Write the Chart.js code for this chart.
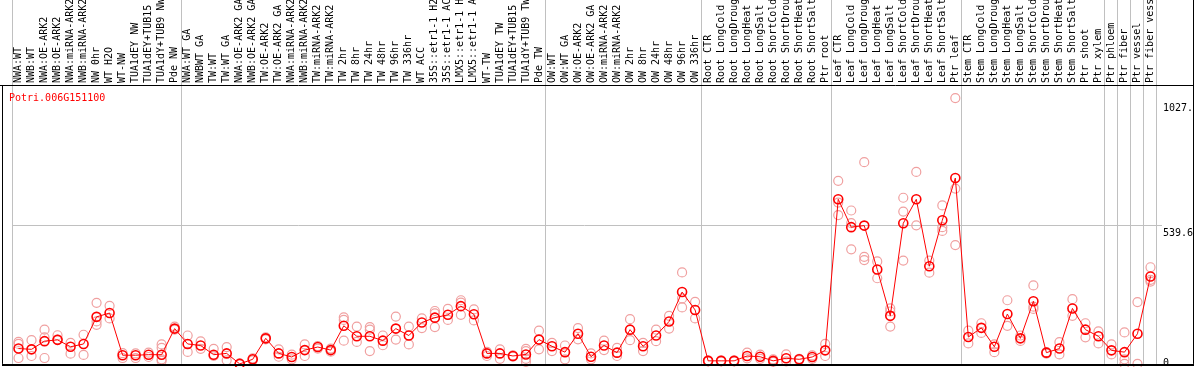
<!DOCTYPE html>
<html>
<head>
<meta charset="utf-8">
<script src="https://cdn.jsdelivr.net/npm/chart.js@4/dist/chart.umd.min.js"></script>
<style>
  html, body { margin: 0; padding: 0; background: #fff; }
</style>
</head>
<body>
<canvas id="chart" width="1194" height="370"></canvas>
<script>
// Potri.006G151100 - expression profile

const chartTitle = "Potri.006G151100";

const samples = [
  "NWA:WT", "NWB:WT", "NWA:OE-ARK2", "NWB:OE-ARK2", "NWA:miRNA-ARK2", "NWB:miRNA-ARK2", "NW 0hr", "WT H2O", "WT-NW",
  "TUA1dEY NW", "TUA1dEY+TUB15", "TUA1dY+TUB9 NW", "Pde NW",
  "NWA:WT GA", "NWBWT GA", "TW:WT", "TW:WT GA", "NWA:OE-ARK2 GA", "NWB:OE-ARK2 GA", "TW:OE-ARK2", "TW:OE-ARK2 GA",
  "NWA:miRNA-ARK2", "NWB:miRNA-ARK2", "TW:miRNA-ARK2", "TW:miRNA-ARK2", "TW 2hr", "TW 8hr", "TW 24hr", "TW 48hr",
  "TW 96hr", "TW 336hr", "WT ACC", "35S::etr1-1 H2", "35S::etr1-1 AC", "LMX5::etr1-1 H", "LMX5::etr1-1 A", "WT-TW",
  "TUA1dEY TW", "TUA1dEY+TUB15", "TUA1dY+TUB9 TW", "Pde TW",
  "OW:WT", "OW:WT GA", "OW:OE-ARK2", "OW:OE-ARK2 GA", "OW:miRNA-ARK2", "OW:miRNA-ARK2", "OW 2hr", "OW 8hr", "OW 24hr",
  "OW 48hr", "OW 96hr", "OW 336hr",
  "Root CTR", "Root LongCold", "Root LongDroug", "Root LongHeat", "Root LongSalt", "Root ShortCold", "Root ShortDrou",
  "Root ShortHeat", "Root ShortSalt", "Ptr root",
  "Leaf CTR", "Leaf LongCold", "Leaf LongDroug", "Leaf LongHeat", "Leaf LongSalt", "Leaf ShortCold", "Leaf ShortDrou",
  "Leaf ShortHeat", "Leaf ShortSalt", "Ptr leaf",
  "Stem CTR", "Stem LongCold", "Stem LongDroug", "Stem LongHeat", "Stem LongSalt", "Stem ShortCold", "Stem ShortDrou",
  "Stem ShortHeat", "Stem ShortSalt", "Ptr shoot", "Ptr xylem",
  "Ptr phloem", "Ptr fiber", "Ptr vessel", "Ptr fiber vess"
];

// sample count per block between the grey separators
const groupSizes = [13, 28, 12, 10, 10, 11, 1, 1, 1, 1];

const meanExpr = [
  60, 57, 89, 94, 67, 78, 184, 199, 34, 34,
  36, 36, 138, 78, 72, 36, 41, 0, 18, 100,
  41, 27, 54, 66, 54, 149, 108, 108, 91, 138,
  111, 162, 181, 192, 226, 194, 41, 41, 31, 37,
  95, 69, 46, 118, 28, 72, 44, 134, 69, 111,
  166, 281, 211, 12, 12, 12, 31, 28, 12, 22,
  18, 27, 53, 644, 535, 541, 369, 188, 550, 644,
  382, 562, 727, 105, 141, 67, 195, 100, 245, 44,
  60, 217, 134, 108, 53, 46, 118, 342
];

const rep1 = [
  86, 93, 134, 112, 82, 114, 239, 227, 42, 41,
  44, 76, 146, 111, 88, 59, 66, 2, 22, 104,
  57, 36, 76, 70, 60, 182, 146, 144, 111, 185,
  146, 178, 207, 215, 249, 213, 47, 57, 33, 59,
  130, 82, 72, 140, 41, 91, 63, 175, 82, 134,
  188, 358, 243, 14, 14, 14, 44, 36, 18, 37,
  20, 33, 78, 716, 600, 789, 401, 217, 650, 751,
  404, 620, 1040, 130, 159, 76, 249, 111, 307, 46,
  85, 253, 159, 127, 76, 123, 242, 378
];

const rep2 = [
  78, 31, 104, 95, 40, 35, 166, 178, 23, 23,
  27, 63, 134, 47, 59, 31, 14, 0, 14, 96,
  28, 18, 31, 60, 48, 172, 86, 134, 73, 95,
  76, 140, 198, 172, 240, 170, 31, 20, 28, 50,
  57, 50, 18, 96, 18, 54, 31, 93, 50, 89,
  138, 256, 178, 10, 10, 10, 22, 20, 8, 10,
  15, 20, 31, 631, 551, 419, 335, 205, 596, 542,
  357, 535, 686, 80, 121, 46, 149, 90, 224, 40,
  37, 188, 104, 80, 37, 18, 0, 329
];

const rep3 = [
  23, null, 23, null, null, null, 153, null, null, null,
  null, 18, null, null, null, null, null, null, null, null,
  null, null, null, null, null, 91, null, 50, null, null,
  null, null, 144, null, 192, null, null, null, null, 20,
  null, null, null, null, null, null, null, null, null, null,
  null, 221, null, null, null, null, null, null, null, null,
  null, null, null, 582, 448, 406, null, 146, 404, null,
  null, 520, 465, null, null, null, null, null, 215, null,
  null, null, null, null, null, 0, null, 322
];

const rep4 = [
  null, null, null, null, null, null, null, null, null, null,
  null, 12, null, null, null, null, null, null, null, null,
  null, null, null, null, null, null, null, null, null, null,
  null, null, null, null, null, null, null, null, null, 8,
  null, null, null, null, null, null, null, null, null, null,
  null, null, null, null, null, null, null, null, null, null,
  null, null, null, null, null, null, null, null, null, null,
  null, null, null, null, null, null, null, null, null, null,
  null, null, null, null, null, null, null, null
];

const yTickValues = [0, 539.6, 1027.4];
const yTickLabels = ["0", "539.6", "1027."];
const yGridValues = [539.6];
const yMax = 1091;

const MONO = "DejaVu Sans Mono";
const GRID_GREY = "#c0c0c0";
const CLEAR = "rgba(0,0,0,0)";

// index of the first sample of each block
const groupStarts = [];
groupSizes.reduce((acc, n) => { groupStarts.push(acc); return acc + n; }, 0);

// frame + red gene id in the corner
const framePlugin = {
  id: "frame",
  afterDraw(chart) {
    const { ctx, chartArea, width } = chart;
    ctx.save();
    ctx.strokeStyle = "#000";
    ctx.lineWidth = 1;
    ctx.beginPath();
    ctx.moveTo(0, chartArea.top + 0.5);
    ctx.lineTo(width, chartArea.top + 0.5);
    ctx.moveTo(2.5, chartArea.top);
    ctx.lineTo(2.5, chartArea.bottom);
    ctx.moveTo(width - 0.5, 0);
    ctx.lineTo(width - 0.5, chartArea.bottom);
    ctx.stroke();
    ctx.lineWidth = 2;
    ctx.beginPath();
    ctx.moveTo(2, chartArea.bottom + 1);
    ctx.lineTo(width, chartArea.bottom + 1);
    ctx.stroke();

    ctx.fillStyle = "#ff0000";
    ctx.font = "10px '" + MONO + "'";
    ctx.textBaseline = "middle";
    ctx.textAlign = "left";
    ctx.fillText(chartTitle, chartArea.left - 3, chartArea.top + 13);
    ctx.restore();
  }
};

function repSet(data) {
  return {
    data,
    showLine: false,
    pointRadius: 4.5,
    pointBorderWidth: 1.2,
    pointBorderColor: "#f0a0a0",
    pointBackgroundColor: CLEAR,
    order: 1,
    clip: { left: 0, top: 0, right: 0, bottom: 3 }
  };
}

new Chart(document.getElementById("chart"), {
  type: "line",
  data: {
    labels: samples,
    datasets: [
      {
        label: "mean",
        data: meanExpr,
        borderColor: "#ff0000",
        borderWidth: 1,
        tension: 0,
        pointRadius: 4.5,
        pointBorderWidth: 1.6,
        pointBorderColor: "#ff0000",
        pointBackgroundColor: CLEAR,
        order: 0,
        clip: { left: 0, top: 0, right: 0, bottom: 3 }
      },
      repSet(rep1),
      repSet(rep2),
      repSet(rep3),
      repSet(rep4)
    ]
  },
  options: {
    responsive: false,
    animation: false,
    devicePixelRatio: 1,
    layout: { padding: { left: 12, right: 0, top: 0, bottom: 2 } },
    plugins: { legend: { display: false }, tooltip: { enabled: false }, title: { display: false } },
    scales: {
      x: {
        type: "category",
        position: "top",
        offset: true,
        border: { display: false },
        grid: {
          offset: true,
          drawTicks: true,
          tickLength: 85,
          lineWidth: 1,
          color: (c) => (c.index === undefined || groupStarts.includes(c.index)) ? GRID_GREY : CLEAR
        },
        ticks: {
          autoSkip: false,
          minRotation: 90,
          maxRotation: 90,
          padding: -83,
          labelOffset: 12,
          color: "#000",
          font: { family: MONO, size: 10 }
        },
        afterFit: (s) => { s.height = 85; s.paddingLeft = 0; s.paddingRight = 0; }
      },
      y: {
        position: "right",
        min: 0,
        max: yMax,
        border: { display: false },
        afterBuildTicks: (s) => { s.ticks = yTickValues.map(v => ({ value: v })); },
        afterFit: (s) => { s.width = 37; s.paddingTop = 0; s.paddingBottom = 0; },
        grid: {
          drawTicks: true,
          tickLength: 5,
          color: (c) => (c.tick && yGridValues.includes(c.tick.value)) ? GRID_GREY : CLEAR
        },
        ticks: {
          align: "start",
          padding: 1,
          labelOffset: 2,
          color: "#000",
          font: (c) => ({ family: MONO, size: 10, lineHeight: c.index === 0 ? 1.5 : 1.2 }),
          callback: (v, i) => i === 0 ? [yTickLabels[0], ""] : yTickLabels[i]
        }
      }
    }
  },
  plugins: [framePlugin]
});
</script>
</body>
</html>
